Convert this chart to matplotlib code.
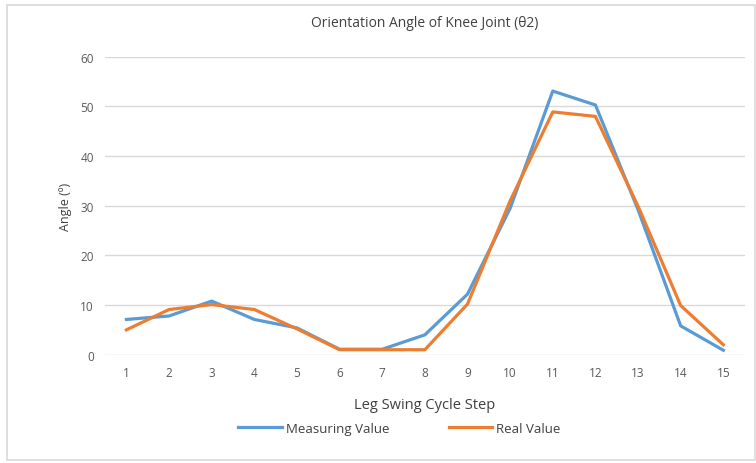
import matplotlib.pyplot as plt
import matplotlib.patches as patches
import numpy as np

steps = list(range(1, 16))
measuring = [7.1, 7.8, 10.8, 7.1, 5.4, 1.1, 1.1, 4.0, 12.2, 29.5, 53.1, 50.3, 29.2, 5.8, 0.9]
real = [5.0, 9.1, 10.1, 9.1, 5.2, 1.0, 1.0, 1.0, 10.2, 31.0, 48.9, 48.0, 29.9, 9.9, 2.0]
yticks = [0, 10, 20, 30, 40, 50, 60]

plt.rcParams['font.family'] = ['Open Sans', 'DejaVu Sans']
text_color = '#595959'

fig = plt.figure(figsize=(7.56, 4.64), dpi=100)
ax = fig.add_axes([0.139, 0.2334, 0.846, 0.642])

# chart frame like the spreadsheet chart border
fig.patches.append(patches.Rectangle((7 / 756, 3 / 464), 748 / 756, 455 / 464,
                                     transform=fig.transFigure, fill=False,
                                     edgecolor='#D9D9D9', linewidth=1.2))

ax.plot(steps, measuring, color='#5B9BD5', linewidth=2.3, label='Measuring Value')
ax.plot(steps, real, color='#ED7D31', linewidth=2.3, label='Real Value')

ax.set_xlim(0.5, 15.5)
ax.set_ylim(0, 60)
ax.set_xticks(steps)
ax.set_yticks(yticks)
ax.grid(axis='y', color='#D9D9D9', linewidth=1)
ax.set_axisbelow(True)
for s in ['top', 'right', 'left', 'bottom']:
    ax.spines[s].set_visible(False)
ax.tick_params(length=0, labelsize=8.5, colors=text_color, pad=8)

ax.set_title('Orientation Angle of Knee Joint (θ2)', fontsize=10, color='#404040', pad=22)
ax.set_xlabel('Leg Swing Cycle Step', fontsize=10.5, color='#404040', labelpad=13)
ax.set_ylabel('Angle (º)', fontsize=9, color='#404040', labelpad=6)

ax.legend(loc='upper center', bbox_to_anchor=(0.46, -0.185), ncol=2, frameon=False,
          fontsize=9.5, handlelength=3.3, columnspacing=4.5, handletextpad=0.3,
          labelcolor='#404040')

fig.savefig('out.png', dpi=100)
